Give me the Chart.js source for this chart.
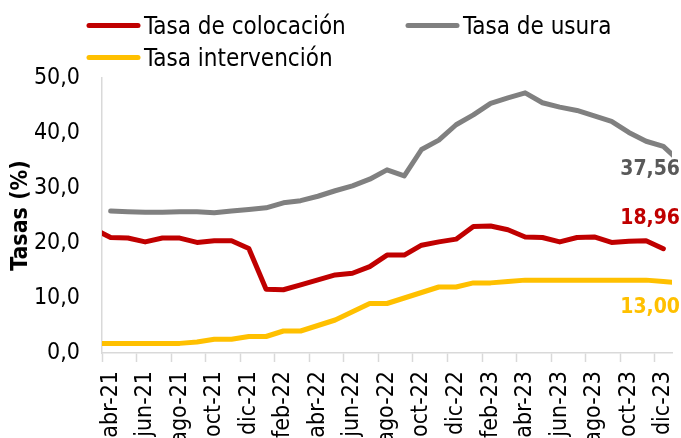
<!DOCTYPE html>
<html>
<head>
<meta charset="utf-8">
<script src="https://cdn.jsdelivr.net/npm/chart.js@4.4.1/dist/chart.umd.min.js"></script>
<style>
  html, body { margin: 0; padding: 0; background: #fff; }
  #wrap { width: 681px; height: 438px; }
</style>
</head>
<body>
<div id="wrap"><canvas id="chart"></canvas></div>
<script>
// months shown run abr-21 .. dic-23; mar-21 and ene-24 only feed the clipped line ends
const months = [
  "mar-21", "abr-21", "may-21", "jun-21", "jul-21", "ago-21", "sep-21", "oct-21", "nov-21", "dic-21",
  "ene-22", "feb-22", "mar-22", "abr-22", "may-22", "jun-22", "jul-22", "ago-22", "sep-22", "oct-22", "nov-22", "dic-22",
  "ene-23", "feb-23", "mar-23", "abr-23", "may-23", "jun-23", "jul-23", "ago-23", "sep-23", "oct-23", "nov-23", "dic-23",
  "ene-24"
];
const colocacion = [
  22.6, 21.0, 20.9, 20.2, 20.9, 20.9, 20.1, 20.4, 20.4, 19.0,
  11.6, 11.5, 12.4, 13.3, 14.2, 14.5, 15.7, 17.8, 17.8, 19.6, 20.2, 20.7,
  23.0, 23.1, 22.4, 21.1, 21.0, 20.2, 21.0, 21.1, 20.1, 20.3, 20.4, 18.96,
  null
];
const usura = [
  null, 25.8, 25.7, 25.6, 25.6, 25.7, 25.7, 25.5, 25.8, 26.1,
  26.4, 27.3, 27.7, 28.5, 29.5, 30.4, 31.6, 33.3, 32.2, 37.0, 38.7, 41.5,
  43.3, 45.4, 46.4, 47.3, 45.5, 44.7, 44.1, 43.1, 42.1, 40.1, 38.5, 37.56,
  34.7
];
const intervencion = [
  1.75, 1.75, 1.75, 1.75, 1.75, 1.75, 2.0, 2.5, 2.5, 3.0,
  3.0, 4.0, 4.0, 5.0, 6.0, 7.5, 9.0, 9.0, 10.0, 11.0, 12.0, 12.0,
  12.75, 12.75, 13.0, 13.25, 13.25, 13.25, 13.25, 13.25, 13.25, 13.25, 13.25, 13.0,
  12.75
];
const seriesNames = ["Tasa de colocación", "Tasa de usura", "Tasa intervención"];
const seriesColors = ["#C00000", "#808080", "#FFC000"];
const endLabelColors = ["#C00000", "#595959", "#FFC000"];
const yTicks = { min: 0, max: 50, step: 10 };
const firstMonth = "abr-21";
const lastMonth = "dic-23";

const FONT = "'DejaVu Sans Condensed', 'Liberation Sans', sans-serif";
const fmt = (v, d) => v.toFixed(d).replace(".", ",");
const iFirst = months.indexOf(firstMonth);
const iLast = months.indexOf(lastMonth);

// legend drawn by hand: two rows, left aligned like the original
const legendPlugin = {
  id: "manualLegend",
  afterDraw(chart) {
    const ctx = chart.ctx;
    const spots = [[87, 25.5], [406, 25.5], [87, 57.5]];
    ctx.save();
    ctx.font = "24px " + FONT;
    ctx.textBaseline = "alphabetic";
    ctx.lineCap = "round";
    ctx.lineWidth = 5;
    chart.data.datasets.forEach((ds, i) => {
      const [x, y] = spots[i];
      ctx.strokeStyle = ds.borderColor;
      ctx.beginPath();
      ctx.moveTo(x + 2, y);
      ctx.lineTo(x + 51, y);
      ctx.stroke();
      ctx.fillStyle = "#000";
      ctx.fillText(ds.label, x + 57, y + 8.5);
    });
    ctx.restore();
  }
};

// value labels at the last month
const endLabelPlugin = {
  id: "endLabels",
  afterDatasetsDraw(chart) {
    const ctx = chart.ctx;
    const shift = [-30, 23, 26];
    ctx.save();
    ctx.font = "bold 21px " + FONT;
    ctx.textAlign = "right";
    ctx.textBaseline = "middle";
    chart.data.datasets.forEach((ds, i) => {
      const pt = chart.getDatasetMeta(i).data[iLast];
      ctx.fillStyle = endLabelColors[i];
      ctx.fillText(fmt(ds.data[iLast].y, 2), chart.chartArea.right + 8, pt.y + shift[i]);
    });
    ctx.restore();
  }
};

const makeSet = (label, values, color) => ({
  label,
  data: values.map((v, i) => ({ x: i, y: v })),
  borderColor: color,
  backgroundColor: color,
  borderWidth: 5,
  borderCapStyle: "round",
  borderJoinStyle: "round",
  pointRadius: 0,
  tension: 0
});

new Chart(document.getElementById("chart"), {
  type: "line",
  data: {
    datasets: [
      makeSet(seriesNames[0], colocacion, seriesColors[0]),
      makeSet(seriesNames[1], usura, seriesColors[1]),
      makeSet(seriesNames[2], intervencion, seriesColors[2])
    ]
  },
  options: {
    responsive: true,
    maintainAspectRatio: false,
    animation: false,
    layout: { padding: { top: 78, right: 9, left: 0, bottom: 0 } },
    plugins: {
      legend: { display: false },
      tooltip: { enabled: false }
    },
    scales: {
      x: {
        type: "linear",
        // month slots: each month sits in the middle of a one-unit band
        min: iFirst - 0.5,
        max: iLast + 0.5,
        grid: {
          drawOnChartArea: false,
          drawTicks: true,
          tickLength: 9,
          tickWidth: 1.5,
          tickColor: "#d9d9d9"
        },
        border: { color: "#d9d9d9", width: 1.5 },
        afterBuildTicks: (axis) => {
          const t = [];
          for (let i = iFirst; i <= iLast; i += 2) t.push({ value: i - 0.5 });
          axis.ticks = t;
        },
        ticks: {
          autoSkip: false,
          minRotation: 90,
          maxRotation: 90,
          padding: 9,
          labelOffset: 8.6,
          color: "#000",
          font: { family: FONT, size: 23 },
          callback: (value) => months[Math.round(value + 0.5)]
        },
        afterFit: (axis) => {
          axis.height = 85;
          axis.paddingLeft = 0;
          axis.paddingRight = 0;
        }
      },
      y: {
        min: yTicks.min,
        max: yTicks.max,
        grid: { display: false, drawTicks: false },
        border: { color: "#d9d9d9", width: 1.5 },
        ticks: {
          stepSize: yTicks.step,
          padding: 22,
          color: "#000",
          font: { family: FONT, size: 23 },
          callback: (v) => fmt(v, 1)
        },
        title: {
          display: true,
          text: "Tasas (%)",
          color: "#000",
          font: { family: FONT, size: 23, weight: "bold" },
          padding: { top: 7, bottom: 0 }
        },
        afterFit: (axis) => { axis.width = 102; }
      }
    }
  },
  plugins: [legendPlugin, endLabelPlugin]
});
</script>
</body>
</html>
